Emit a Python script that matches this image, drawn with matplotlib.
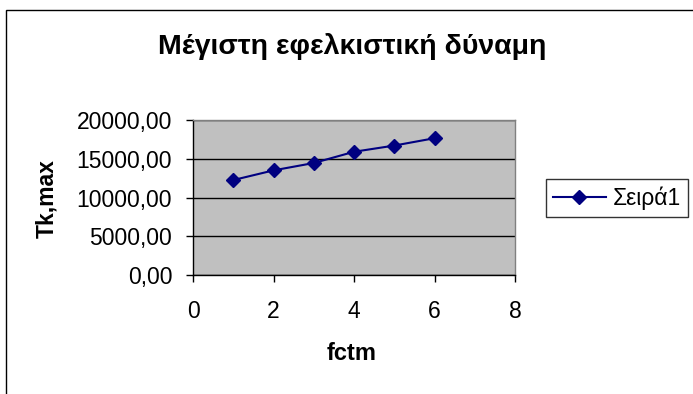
import matplotlib
matplotlib.use("Agg")
import matplotlib.pyplot as plt
from matplotlib.patches import Rectangle
from matplotlib.ticker import FuncFormatter, MultipleLocator

plt.rcParams['font.family'] = ['Liberation Sans', 'DejaVu Sans']

# Data
fctm = [1, 2, 3, 4, 5, 6]
tk_max = [12250, 13500, 14450, 15900, 16700, 17650]
series_name = "Σειρά1"
title = "Μέγιστη εφελκιστική δύναμη"
xlabel = "fctm"
ylabel = "Tk,max"

W, H = 693, 394
fig = plt.figure(figsize=(W / 100, H / 100), dpi=100)

# Chart border
fig.patches.append(Rectangle((6 / W, -0.1), 1.2, (H - 10) / H + 0.1,
                             transform=fig.transFigure, fill=False,
                             edgecolor='black', linewidth=1.0))

ax = fig.add_axes([193 / W, 1 - 275 / H, (515 - 193) / W, (275 - 120) / H])
ax.set_facecolor('#C0C0C0')
for s in ax.spines.values():
    s.set_color('#808080')
    s.set_linewidth(1.0)
ax.spines['left'].set_color('black')
ax.spines['bottom'].set_color('black')

ax.plot(fctm, tk_max, color='#000080', linewidth=1.5, marker='D',
        markersize=7, markerfacecolor='#000080', markeredgecolor='#000080',
        label=series_name, zorder=3)

ax.set_xlim(0, 8)
ax.set_ylim(0, 20000)
ax.xaxis.set_major_locator(MultipleLocator(2))
ax.yaxis.set_major_locator(MultipleLocator(5000))
ax.yaxis.set_major_formatter(FuncFormatter(lambda v, p: f"{v:.2f}".replace('.', ',')))
ax.grid(axis='y', color='black', linewidth=1.0)
ax.set_axisbelow(True)
ax.tick_params(axis='both', direction='out', length=5, width=1.0,
               labelsize=16.5, colors='black')
ax.tick_params(axis='x', pad=13)
ax.tick_params(axis='y', pad=10)

ax.set_xlabel(xlabel, fontsize=17, fontweight='bold')
ax.xaxis.set_label_coords(352 / W, 1 - 354 / H, transform=fig.transFigure)
ax.xaxis.label.set_va('center')
ax.set_ylabel(ylabel, fontsize=16.5, fontweight='bold')
ax.yaxis.set_label_coords(47 / W, 1 - 199 / H, transform=fig.transFigure)
ax.yaxis.label.set_va('center')

fig.text(352 / W, 1 - 47 / H, title, ha='center', va='center',
         fontsize=20.5, fontweight='bold')

leg = ax.legend(loc='center left', bbox_to_anchor=(546 / W, 1 - 198 / H),
                bbox_transform=fig.transFigure, frameon=True, fancybox=False,
                edgecolor='black', fontsize=16.5, handlelength=2.3,
                borderpad=0.3, handletextpad=0.3, borderaxespad=0)
leg.get_frame().set_linewidth(1.0)

fig.savefig("out.png", dpi=100)
